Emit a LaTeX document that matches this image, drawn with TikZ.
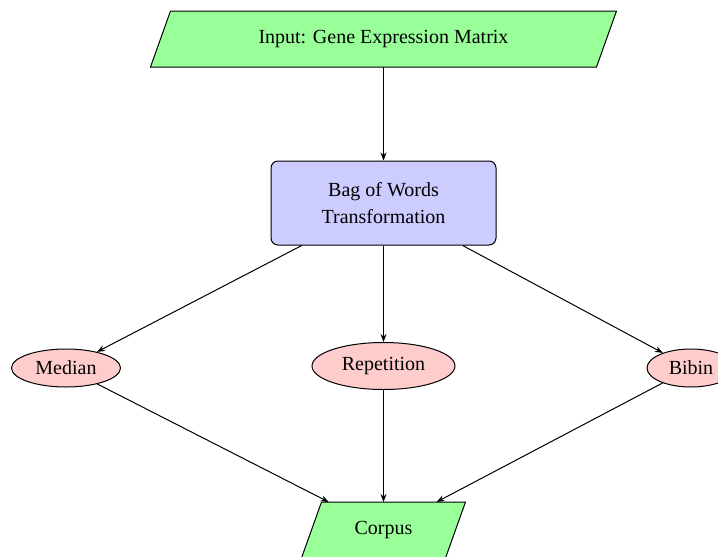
\documentclass[tikz,border=0pt]{standalone}
\usepackage{fontspec}
\setmainfont{Liberation Serif}
\usetikzlibrary{shapes.geometric,arrows.meta,backgrounds}
\begin{document}
\begin{tikzpicture}[x=1pt,y=-1pt,
  every node/.style={font=\fontsize{20}{27}\selectfont, line width=1pt},
  io/.style={rectangle, minimum height=55pt, inner sep=0pt},
  iofill/.style={draw, fill=green!40, line width=1pt},
  process/.style={rectangle, rounded corners=7pt, draw, fill=blue!20,
    minimum width=225pt, minimum height=84pt, align=center, inner sep=0pt},
  method/.style={ellipse, draw, fill=red!20, inner sep=0pt},
  flow/.style={-{Stealth[length=8pt,width=6pt]}, line width=1pt}
]
\useasboundingbox (0,0) rectangle (718,557);

% data nodes: the text boxes, the slanted outlines are drawn behind them
\node[io, minimum width=445pt] (input) at (383.5,39) {Input: Gene Expression Matrix};
\node[io, minimum width=143pt] (corpus) at (383.5,530) {Corpus};

\begin{scope}[on background layer]
  \foreach \n in {input, corpus} {
    \draw[iofill] ([xshift=10pt]\n.north west) -- ([xshift=10pt]\n.north east)
      -- ([xshift=-10pt]\n.south east) -- ([xshift=-10pt]\n.south west) -- cycle;
  }
\end{scope}

\node[process] (bow) at (383.5,203) {Bag of Words\\Transformation};
\node[method, minimum width=109pt, minimum height=38pt] (median) at (66,368) {Median};
\node[method, minimum width=143pt, minimum height=47pt] (rep) at (383.5,366) {Repetition};
\node[method, minimum width=88pt, minimum height=38pt] (bibin) at (691,368) {Bibin};

\draw[flow] (input) -- (bow);
\draw[flow] (bow) -- (median);
\draw[flow] (bow) -- (rep);
\draw[flow] (bow) -- (bibin);
\draw[flow] (median) -- (corpus);
\draw[flow] (rep) -- (corpus);
\draw[flow] (bibin) -- (corpus);
\end{tikzpicture}
\end{document}
